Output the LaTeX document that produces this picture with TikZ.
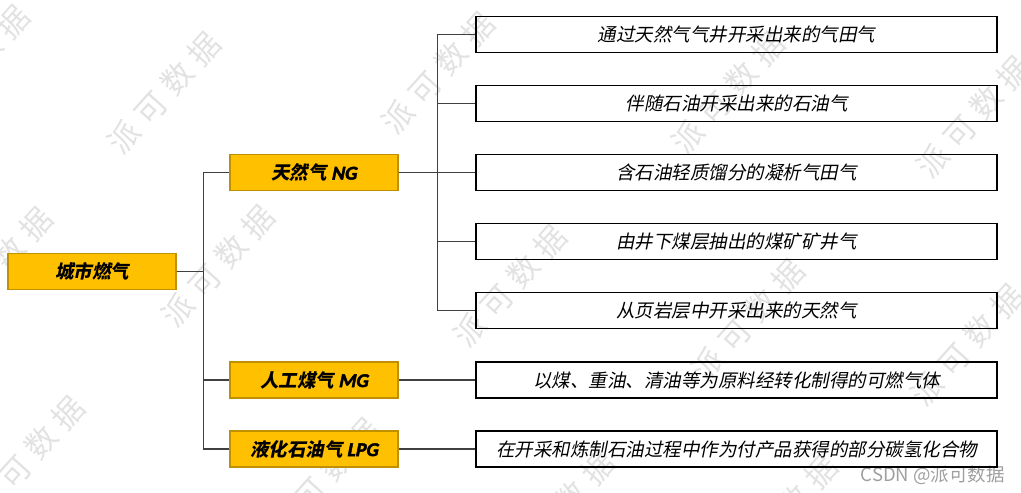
\documentclass[tikz,border=0pt]{standalone}
\usepackage{fontspec}
\usepackage{tikz}
\usetikzlibrary{positioning}
\setmainfont{Carlito}
\newfontfamily\zhfont[FakeSlant=0.2]{Noto Sans CJK SC}
\newfontfamily\latfont[FakeSlant=0.2,FakeBold=2.2]{Carlito}
\newfontfamily\wmfont[LetterSpace=28]{Noto Sans CJK SC}
\newfontfamily\tagfont{Noto Sans CJK SC}
\definecolor{amber}{RGB}{255,192,0}
\definecolor{amberedge}{RGB}{191,144,0}
\definecolor{linkgray}{RGB}{64,64,64}
\definecolor{wmgray}{RGB}{226,226,226}
\newcommand{\abbr}[1]{{\latfont\fontsize{19.5}{20}\selectfont #1}}
\tikzset{
  topic/.style={draw=amberedge,line width=1.2pt,fill=amber,minimum width=168pt,minimum height=36pt,inner sep=0pt,font=\zhfont\bfseries\fontsize{18.5}{20}\selectfont},
  desc/.style={draw=black,line width=1.2pt,minimum width=521pt,minimum height=36pt,inner sep=0pt,font=\zhfont\fontsize{18.5}{20}\selectfont},
  link/.style={draw=linkgray,line width=1.3pt},
  wmark/.style={text=wmgray,rotate=48,inner sep=0pt,font=\wmfont\fontsize{31}{34}\selectfont}
}

\begin{document}
\begin{tikzpicture}[x=1pt,y=-1pt]
\useasboundingbox (0,0) rectangle (1021,493);
% watermark
\foreach \x/\y [count=\i] in {-27/66,164/93,438/73,728/93,973/117,-4/268,218/266,510/286,748/320,967/345,28/457,323/479,558/512,781/516}
  \node[wmark] (wm\i) at (\x,\y) {派可数据};
\node[anchor=east,text=gray!75,inner sep=0pt,font=\tagfont\fontsize{18.5}{20}\selectfont] (tag) at (1005,475) {CSDN @派可数据};
% root and gas kinds
\node[topic] (city) at (92,271.5) {城市燃气};
\node[topic] (ng) at (314,172.5) {天然气 \abbr{NG}};
\node[topic] (mg) at (314,380) {人工煤气 \abbr{MG}};
\node[topic] (lpg) at (314,449) {液化石油气 \abbr{LPG}};
% descriptions
\node[desc] (ng1) at (736.5,34.5) {通过天然气气井开采出来的气田气};
\node[desc] (ng2) at (736.5,103.5) {伴随石油开采出来的石油气};
\node[desc] (ng3) at (736.5,172.5) {含石油轻质馏分的凝析气田气};
\node[desc] (ng4) at (736.5,241.5) {由井下煤层抽出的煤矿矿井气};
\node[desc] (ng5) at (736.5,310.5) {从页岩层中开采出来的天然气};
\node[desc] (mgd) at (736.5,380) {以煤、重油、清油等为原料经转化制得的可燃气体};
\node[desc] (lpgd) at (736.5,449) {在开采和炼制石油过程中作为付产品获得的部分碳氢化合物};
% connectors
\foreach \k in {ng,mg,lpg}
  \draw[link] (city.east) -- ++(27,0) |- (\k.west);
\foreach \d in {ng1,ng2,ng3,ng4,ng5}
  \draw[link] (ng.east) -- ++(39,0) |- (\d.west);
\draw[link] (mg.east) -- (mgd.west);
\draw[link] (lpg.east) -- (lpgd.west);
\end{tikzpicture}
\end{document}
